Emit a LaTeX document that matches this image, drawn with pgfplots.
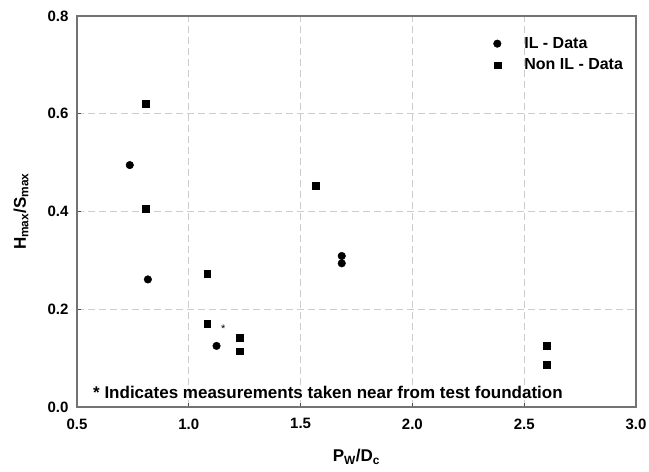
\documentclass[border=0pt]{standalone}
\usepackage{pgfplots}
\pgfplotsset{compat=1.18}
\usepackage{fontspec}
\setmainfont{Liberation Sans}
\begin{document}
\begin{tikzpicture}
\begin{axis}[
  name=ax,
  scale only axis,
  width=559pt, height=391pt,
  xmin=0.5, xmax=3.0, ymin=0, ymax=0.8,
  xtick={0.5,1.0,1.5,2.0,2.5,3.0},
  ytick={0,0.2,0.4,0.6,0.8},
  xtick pos=bottom, ytick pos=left,
  tick align=inside,
  major tick length=4pt,
  tick style={black!70, line width=0.8pt},
  axis line style={black!55, line width=1.3pt},
  grid=major,
  major grid style={gray!40, dash pattern=on 7pt off 4pt, line width=1pt},
  /pgf/number format/.cd, fixed, fixed zerofill, precision=1, assume math mode=true,
  /pgfplots/.cd,
  ticklabel style={font=\bfseries\fontsize{15}{15}\selectfont},
  yticklabel style={xshift=-5pt},
  xticklabel style={yshift=-8pt},
  xlabel={P\textsubscript{W}/D\textsubscript{c}},
  ylabel={H\textsubscript{max}/S\textsubscript{max}},
  xlabel style={font=\bfseries\fontsize{17}{17}\selectfont, at={(axis description cs:0.5,0)}, anchor=base, yshift=-55pt},
  ylabel style={font=\bfseries\fontsize{17}{17}\selectfont, at={(axis description cs:-0.1,0.5)}, anchor=center},
  legend image code/.code={\path[draw=none] (-4pt,0pt) (25pt,0pt); \draw[#1] plot coordinates {(0pt,0pt)};},
  legend style={draw=none, fill=none, at={(0.739,0.956)}, anchor=north west,
    font=\bfseries\fontsize{16}{16}\selectfont, row sep=5pt},
  legend cell align=left,
  clip=false,
]
\addplot[only marks, mark=*, mark size=3.8pt, black] coordinates {
  (0.736,0.495) (0.817,0.261) (1.124,0.125) (1.684,0.309) (1.684,0.294)
};
\addlegendentry{IL - Data}
\addplot[only marks, mark=square*, mark size=3.4pt, black] coordinates {
  (0.808,0.620) (0.808,0.405) (1.082,0.273) (1.082,0.171)
  (1.227,0.142) (1.227,0.114) (1.569,0.452) (2.602,0.125) (2.602,0.087)
};
\addlegendentry{Non IL - Data}
\node[font=\fontsize{11}{11}\selectfont, inner sep=0pt] at (axis cs:1.154,0.160) {*};
\node[anchor=base west, inner sep=0pt, font=\bfseries\fontsize{17}{17}\selectfont] at ([xshift=16pt,yshift=8pt]rel axis cs:0,0) {* Indicates measurements taken near from test foundation};
\end{axis}
\pgfresetboundingbox
\path[use as bounding box] ([xshift=-77pt,yshift=-65pt]ax.south west) rectangle ([xshift=13pt,yshift=16pt]ax.north east);
\end{tikzpicture}
\end{document}
